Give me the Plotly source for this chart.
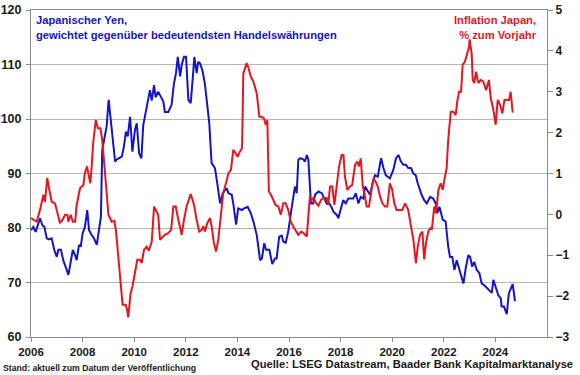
import plotly.graph_objects as go

# Japanischer Yen, handelsgewichtet (linke Achse)
yen_t = [2006.00, 2006.09, 2006.18, 2006.26, 2006.35, 2006.44, 2006.52, 2006.61, 2006.70, 2006.80,
         2006.90, 2007.00, 2007.06, 2007.16, 2007.25, 2007.34, 2007.45, 2007.54, 2007.62, 2007.71,
         2007.77, 2007.86, 2007.93, 2008.00, 2008.09, 2008.18, 2008.25, 2008.35, 2008.44, 2008.55,
         2008.64, 2008.71, 2008.76, 2008.87, 2008.93, 2009.01, 2009.09, 2009.15, 2009.26, 2009.33,
         2009.52, 2009.60, 2009.68, 2009.75, 2009.84, 2009.93, 2010.03, 2010.10, 2010.19, 2010.28,
         2010.35, 2010.45, 2010.55, 2010.61, 2010.68, 2010.77, 2010.83, 2010.93, 2011.03, 2011.13,
         2011.19, 2011.32, 2011.45, 2011.54, 2011.62, 2011.69, 2011.78, 2011.84, 2011.93, 2012.01,
         2012.10, 2012.19, 2012.27, 2012.33, 2012.42, 2012.48, 2012.55, 2012.64, 2012.74, 2012.83,
         2012.91, 2013.00, 2013.13, 2013.22, 2013.33, 2013.43, 2013.59, 2013.65, 2013.78, 2013.84,
         2013.95, 2014.03, 2014.17, 2014.26, 2014.40, 2014.52, 2014.62, 2014.75, 2014.88, 2014.95,
         2015.04, 2015.11, 2015.24, 2015.35, 2015.46, 2015.52, 2015.62, 2015.72, 2015.78, 2015.87,
         2015.97, 2016.07, 2016.14, 2016.23, 2016.30, 2016.36, 2016.43, 2016.55, 2016.62, 2016.69,
         2016.75, 2016.85, 2016.94, 2017.01, 2017.14, 2017.27, 2017.37, 2017.46, 2017.52, 2017.63,
         2017.72, 2017.85, 2017.91, 2018.04, 2018.10, 2018.20, 2018.30, 2018.36, 2018.49, 2018.59,
         2018.69, 2018.78, 2018.88, 2018.95, 2019.03, 2019.14, 2019.24, 2019.33, 2019.44, 2019.57,
         2019.66, 2019.75, 2019.91, 2020.04, 2020.15, 2020.24, 2020.34, 2020.43, 2020.53, 2020.62,
         2020.73, 2020.82, 2020.91, 2020.99, 2021.14, 2021.24, 2021.34, 2021.47, 2021.59, 2021.69,
         2021.75, 2021.83, 2021.96, 2022.07, 2022.17, 2022.24, 2022.33, 2022.41, 2022.50, 2022.63,
         2022.76, 2022.86, 2022.95, 2023.02, 2023.10, 2023.18, 2023.28, 2023.38, 2023.47, 2023.57,
         2023.69, 2023.79, 2023.86, 2023.92, 2024.02, 2024.11, 2024.21, 2024.24, 2024.33, 2024.44,
         2024.52, 2024.59, 2024.67, 2024.76]
yen_v = [79.6, 80.2, 79.3, 80.5, 81.8, 80.5, 80.2, 78.1, 77.9, 78.1,
         76.0, 74.7, 76.0, 76.0, 74.1, 72.9, 71.4, 73.8, 76.0, 75.0,
         74.1, 76.9, 76.6, 79.0, 80.2, 83.3, 79.6, 78.7, 78.1, 76.9,
         79.6, 82.1, 94.3, 97.4, 98.6, 103.5, 99.8, 96.1, 92.2, 92.6,
         93.1, 94.9, 97.7, 96.8, 100.4, 94.0, 98.0, 99.2, 93.7, 92.8,
         98.9, 101.3, 103.5, 105.3, 103.4, 106.2, 104.0, 105.0, 104.1, 103.2,
         101.3, 101.3, 102.6, 106.5, 108.4, 111.4, 107.8, 109.9, 111.4, 111.4,
         103.5, 102.9, 107.5, 111.4, 108.4, 110.5, 110.2, 109.0, 106.5, 102.3,
         99.2, 91.9, 91.0, 88.2, 84.5, 86.4, 87.3, 86.4, 86.1, 84.5,
         80.6, 83.6, 83.3, 83.6, 83.9, 82.7, 81.2, 78.7, 74.1, 74.4,
         77.2, 76.0, 76.0, 73.4, 74.4, 74.4, 78.4, 78.6, 77.5, 77.3,
         79.3, 82.7, 85.1, 87.6, 86.4, 92.5, 92.8, 92.6, 92.2, 93.4,
         92.6, 84.5, 84.5, 86.1, 86.7, 86.4, 85.4, 84.5, 84.8, 84.0,
         83.0, 82.4, 81.8, 83.9, 85.1, 84.5, 85.4, 85.4, 85.4, 86.4,
         84.5, 85.7, 85.4, 87.6, 87.0, 86.1, 88.2, 89.7, 89.4, 92.8,
         91.0, 89.7, 89.1, 90.6, 92.8, 93.4, 92.2, 91.6, 91.6, 91.0,
         91.0, 90.0, 89.7, 88.2, 86.1, 85.1, 84.5, 85.7, 85.4, 84.5,
         82.7, 83.9, 81.5, 81.2, 76.6, 74.7, 74.7, 72.3, 74.1, 71.7,
         69.8, 72.9, 75.0, 74.7, 72.9, 73.8, 72.3, 71.7, 69.8, 69.5,
         68.9, 68.3, 68.1, 70.5, 68.9, 67.7, 67.1, 65.6, 65.6, 64.2,
         68.0, 68.9, 69.7, 66.6]

# Inflation Japan, % zum Vorjahr (rechte Achse)
cpi_t = [2006.00, 2006.22, 2006.35, 2006.48, 2006.54, 2006.63, 2006.71, 2006.80, 2006.93, 2007.02,
         2007.12, 2007.21, 2007.32, 2007.41, 2007.45, 2007.54, 2007.62, 2007.71, 2007.77, 2007.90,
         2008.03, 2008.09, 2008.17, 2008.22, 2008.30, 2008.35, 2008.41, 2008.51, 2008.59, 2008.69,
         2008.76, 2008.87, 2009.00, 2009.13, 2009.23, 2009.29, 2009.38, 2009.48, 2009.55, 2009.67,
         2009.72, 2009.77, 2009.86, 2009.93, 2010.03, 2010.12, 2010.22, 2010.29, 2010.38, 2010.48,
         2010.57, 2010.68, 2010.77, 2010.84, 2010.93, 2011.00, 2011.13, 2011.19, 2011.32, 2011.43,
         2011.52, 2011.61, 2011.71, 2011.84, 2011.93, 2012.03, 2012.19, 2012.32, 2012.42, 2012.52,
         2012.62, 2012.68, 2012.74, 2012.83, 2012.94, 2013.00, 2013.09, 2013.17, 2013.26, 2013.35,
         2013.45, 2013.59, 2013.65, 2013.75, 2013.84, 2013.93, 2014.01, 2014.10, 2014.18, 2014.23,
         2014.31, 2014.36, 2014.43, 2014.52, 2014.62, 2014.75, 2014.85, 2014.94, 2015.03, 2015.10,
         2015.16, 2015.22, 2015.30, 2015.39, 2015.48, 2015.59, 2015.68, 2015.78, 2015.87, 2015.97,
         2016.07, 2016.17, 2016.30, 2016.36, 2016.47, 2016.55, 2016.69, 2016.81, 2016.88, 2016.94,
         2017.03, 2017.14, 2017.24, 2017.33, 2017.46, 2017.52, 2017.59, 2017.68, 2017.76, 2017.85,
         2017.94, 2018.04, 2018.11, 2018.17, 2018.26, 2018.36, 2018.45, 2018.56, 2018.65, 2018.71,
         2018.78, 2018.86, 2018.92, 2019.01, 2019.10, 2019.18, 2019.27, 2019.36, 2019.44, 2019.53,
         2019.62, 2019.72, 2019.81, 2019.91, 2020.00, 2020.08, 2020.17, 2020.27, 2020.39, 2020.50,
         2020.62, 2020.73, 2020.82, 2020.92, 2020.99, 2021.08, 2021.17, 2021.24, 2021.31, 2021.40,
         2021.47, 2021.54, 2021.63, 2021.70, 2021.79, 2021.88, 2021.96, 2022.02, 2022.11, 2022.17,
         2022.27, 2022.37, 2022.46, 2022.52, 2022.59, 2022.67, 2022.73, 2022.82, 2022.89, 2022.98,
         2023.00, 2023.08, 2023.12, 2023.18, 2023.25, 2023.34, 2023.43, 2023.53, 2023.64, 2023.75,
         2023.82, 2023.92, 2024.01, 2024.09, 2024.18, 2024.27, 2024.35, 2024.45, 2024.53, 2024.59,
         2024.67]
cpi_v = [-0.09, -0.18, 0.11, 0.48, 0.30, 0.89, 0.60, 0.31, 0.27, 0.03,
         -0.20, -0.15, -0.01, -0.01, -0.18, -0.01, -0.18, -0.18, 0.23, 0.64,
         0.72, 1.01, 1.17, 1.01, 0.76, 1.17, 1.74, 2.31, 2.11, 2.11,
         1.82, 1.01, -0.01, -0.18, -0.16, -0.38, -1.03, -1.80, -2.21, -2.21,
         -2.32, -2.52, -1.93, -1.77, -1.36, -1.11, -1.11, -1.19, -0.87, -0.79,
         -0.89, -0.67, 0.19, 0.11, -0.01, -0.62, -0.55, -0.50, -0.46, -0.38,
         0.19, 0.19, -0.13, -0.50, -0.13, 0.19, 0.50, 0.23, -0.13, -0.42,
         -0.38, -0.29, -0.42, -0.22, -0.09, -0.29, -0.70, -0.91, -0.62, -0.05,
         0.52, 0.84, 1.01, 1.09, 1.58, 1.50, 1.41, 1.54, 1.62, 3.45,
         3.61, 3.70, 3.58, 3.37, 3.25, 2.96, 2.39, 2.39, 2.35, 2.19,
         2.31, 0.56, 0.48, 0.35, 0.23, 0.19, -0.01, 0.27, 0.27, 0.11,
         -0.18, -0.30, -0.42, -0.50, -0.42, -0.45, -0.54, 0.44, 0.35, 0.40,
         0.30, 0.21, 0.35, 0.40, 0.40, 0.23, 0.68, 0.68, 0.23, 0.68,
         1.17, 1.45, 1.45, 0.92, 0.60, 0.68, 0.72, 1.21, 1.29, 1.17,
         1.37, 0.68, 0.52, 0.19, 0.19, 0.52, 0.88, 0.80, 0.68, 0.44,
         0.27, 0.19, 0.19, 0.76, 0.60, 0.27, 0.11, 0.11, 0.11, 0.27,
         0.11, -0.30, -0.62, -1.19, -0.79, -0.50, -0.42, -1.10, -0.70, -0.42,
         -0.34, -0.36, 0.19, 0.03, 0.60, 0.76, 0.60, 0.84, 1.13, 1.82,
         2.51, 2.51, 2.43, 2.76, 3.00, 3.00, 3.66, 3.74, 3.90, 4.10,
         4.28, 3.94, 3.29, 3.21, 3.49, 3.21, 3.29, 3.25, 3.04, 3.29,
         2.84, 2.56, 2.19, 2.80, 2.68, 2.47, 2.80, 2.80, 2.80, 3.00,
         2.49]

x_ticks = [2006, 2008, 2010, 2012, 2014, 2016, 2018, 2020, 2022, 2024]
left_ticks = [60, 70, 80, 90, 100, 110, 120]
right_ticks = [-3, -2, -1, 0, 1, 2, 3, 4, 5]

BLUE = "#1414c8"
RED = "#e8141e"
FONT = "Liberation Sans, Arial, sans-serif"
AX = "#8c8c8c"
TXT = "#1a1a1a"

fig = go.Figure()
fig.add_trace(go.Scatter(x=yen_t, y=yen_v, mode="lines", line=dict(color=BLUE, width=2),
                         yaxis="y", showlegend=False, hoverinfo="skip"))
fig.add_trace(go.Scatter(x=cpi_t, y=cpi_v, mode="lines", line=dict(color=RED, width=2),
                         yaxis="y2", showlegend=False, hoverinfo="skip"))

fig.update_layout(
    width=580, height=375,
    margin=dict(l=31, r=33, t=10, b=38, autoexpand=False),
    paper_bgcolor="white", plot_bgcolor="white",
    xaxis=dict(range=[2006, 2026], tickvals=x_ticks, ticktext=[str(v) for v in x_ticks],
               showgrid=False, zeroline=False, showline=True, linecolor=AX, linewidth=1,
               mirror=True, ticks="outside", ticklen=4, tickcolor=AX,
               tickfont=dict(family=FONT, size=11.5, color=TXT, weight="bold"),
               automargin=False),
    yaxis=dict(range=[60, 120], tickvals=left_ticks, showgrid=True, gridcolor="#b4b4b4",
               gridwidth=1, zeroline=False, showline=True, linecolor=AX, linewidth=1,
               ticks="outside", ticklen=4, tickcolor=AX, ticklabelstandoff=2,
               tickfont=dict(family=FONT, size=12.5, color=TXT, weight="bold"),
               automargin=False),
    yaxis2=dict(range=[-3, 5], tickvals=right_ticks, overlaying="y", side="right",
                showgrid=False, zeroline=False, showline=True, linecolor=AX, linewidth=1,
                ticks="outside", ticklen=5, tickcolor=AX,
                tickfont=dict(family=FONT, size=12, color=TXT, weight="bold"),
                automargin=False),
    annotations=[
        dict(text="Japanischer Yen,<br>gewichtet gegenüber bedeutendsten Handelswährungen",
             xref="paper", yref="paper", x=0.006, y=0.993, xanchor="left", yanchor="top",
             align="left", showarrow=False,
             font=dict(family=FONT, size=11.2, color=BLUE, weight="bold")),
        dict(text="Inflation Japan,<br>% zum Vorjahr",
             xref="paper", yref="paper", x=0.985, y=0.993, xanchor="right", yanchor="top",
             align="right", showarrow=False,
             font=dict(family=FONT, size=11.2, color=RED, weight="bold")),
        dict(text="Quelle: LSEG Datastream, Baader Bank Kapitalmarktanalyse",
             xref="paper", yref="paper", x=1.055, y=-0.083, xanchor="right", yanchor="middle",
             showarrow=False, font=dict(family=FONT, size=11.2, color=TXT, weight="bold")),
        dict(text="Stand: aktuell zum Datum der Veröffentlichung",
             xref="paper", yref="paper", x=-0.058, y=-0.095, xanchor="left", yanchor="middle",
             showarrow=False, font=dict(family=FONT, size=8.7, color=TXT, weight="bold")),
    ],
)

fig.write_html("out.html", config={"displayModeBar": False},
               post_script="document.body.style.margin='0';document.body.style.padding='0';")
